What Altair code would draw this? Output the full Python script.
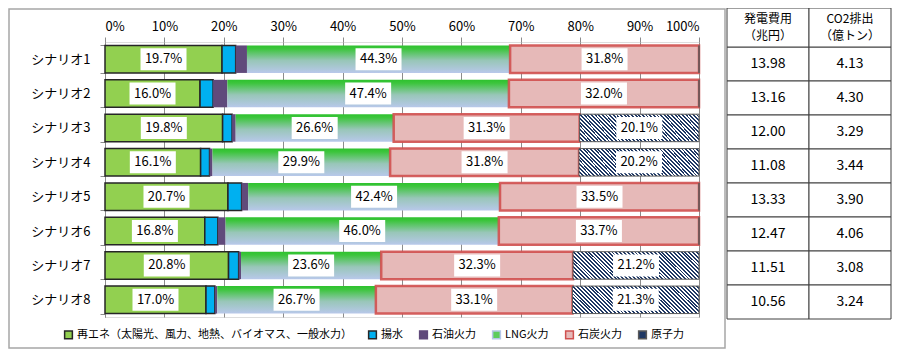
import altair as alt
import pandas as pd

# ---------------- data ----------------
scenarios = ["シナリオ1", "シナリオ2", "シナリオ3", "シナリオ4",
             "シナリオ5", "シナリオ6", "シナリオ7", "シナリオ8"]
types = ["再エネ（太陽光、風力、地熱、バイオマス、一般水力）", "揚水", "石油火力",
         "LNG火力", "石炭火力", "原子力"]
renew = [19.7, 16.0, 19.8, 16.1, 20.7, 16.8, 20.8, 17.0]
pumped = [2.3, 2.2, 1.6, 1.5, 2.3, 2.2, 1.7, 1.5]
oil = [1.9, 2.4, 0.6, 0.5, 1.1, 1.3, 0.4, 0.4]
lng = [44.3, 47.4, 26.6, 29.9, 42.4, 46.0, 23.6, 26.7]
coal = [31.8, 32.0, 31.3, 31.8, 33.5, 33.7, 32.3, 33.1]
nuclear = [0.0, 0.0, 20.1, 20.2, 0.0, 0.0, 21.2, 21.3]
table_cols = ["発電費用", "CO2排出"]
table_units = ["（兆円）", "（億トン）"]
cost = [13.98, 13.16, 12.00, 11.08, 13.33, 12.47, 11.51, 10.56]
co2 = [4.13, 4.30, 3.29, 3.44, 3.90, 4.06, 3.08, 3.24]
x_ticks = [0, 10, 20, 30, 40, 50, 60, 70, 80, 90, 100]

series = [renew, pumped, oil, lng, coal, nuclear]
rows = []
for ti, (t, vals) in enumerate(zip(types, series)):
    for s, v in zip(scenarios, vals):
        rows.append({"scenario": s, "type": t, "order": ti, "value": v})
df = pd.DataFrame(rows)

trows = []
for s, c, e in zip(scenarios, cost, co2):
    trows.append({"scenario": s, "col": table_cols[0], "value": c})
    trows.append({"scenario": s, "col": table_cols[1], "value": e})
tdf = pd.DataFrame(trows)
hdf = pd.DataFrame({"col": table_cols, "unit": table_units})

# ---------------- styles ----------------
FONT = "Noto Sans CJK JP"
W_PLOT, H_PLOT = 594, 275

fills = ["#92d050", "#00b0f0", "#604a7b", "#5ccc5c", "#e6b9b8", "#1f3864"]
strokes = ["#262626", "#262626", "#604a7b", "#b4c6e7", "#d0504f", "#595959"]

lng_grad = {
    "gradient": "linear", "x1": 0, "y1": 0, "x2": 0, "y2": 1,
    "stops": [
        {"offset": 0.0, "color": "#2ec22e"},
        {"offset": 0.12, "color": "#3cc53c"},
        {"offset": 0.55, "color": "#98c6b8"},
        {"offset": 1.0, "color": "#b8c8ea"},
    ],
}

# diagonal hatch built from a hard-stop gradient (\\\ stripes)
bw, bh = 123.0, 27.0
a = (1 + bh / bw) / (1 + (bh / bw) ** 2)
ncyc = 40
hstops = []
for k in range(ncyc):
    o0, o1, o2 = k / ncyc, (k + 0.5) / ncyc, (k + 1) / ncyc
    hstops += [{"offset": o0, "color": "#1f3864"}, {"offset": o1, "color": "#1f3864"},
               {"offset": o1, "color": "#ffffff"}, {"offset": o2, "color": "#ffffff"}]
hatch = {"gradient": "linear", "x1": 0, "y1": 1, "x2": a, "y2": 1 - a * bh / bw,
         "stops": hstops}

xscale = alt.Scale(domain=[0, 100], nice=False)
yscale = alt.Scale(domain=scenarios, paddingInner=0.2, paddingOuter=0.1)

base = alt.Chart(df).transform_stack(
    stack="value", as_=["x0", "x1"], groupby=["scenario"],
    sort=[alt.SortField("order", order="ascending")]
).transform_calculate(
    mid="(datum.x0 + datum.x1) / 2",
    label="format(datum.value, '.1f') + '%'"
)

x_enc = alt.X("x0:Q", scale=xscale, axis=alt.Axis(
    orient="top", values=x_ticks, labelExpr="datum.value + '%'", title=None,
    grid=True, gridColor="#8c8c8c", gridWidth=1, domain=False,
    ticks=True, tickSize=5, tickColor="#8c8c8c", labelFontSize=13,
    labelColor="#000000", labelPadding=4, labelFont=FONT))
y_enc = alt.Y("scenario:N", sort=scenarios, scale=yscale, axis=alt.Axis(
    title=None, labelFontSize=13, labelColor="#000000", labelFont=FONT,
    labelPadding=10, tickBand="extent", tickSize=5, tickColor="#8c8c8c",
    domainColor="#8c8c8c", grid=False))


def seg(i, **mark):
    return base.transform_filter(alt.datum.order == i).mark_bar(**mark).encode(
        x=alt.X("x0:Q", scale=xscale), x2="x1:Q",
        y=alt.Y("scenario:N", sort=scenarios, scale=yscale))


axes_layer = base.mark_bar(opacity=0).encode(x=x_enc, x2="x1:Q", y=y_enc)

renew_l = seg(0, fill=fills[0], stroke=strokes[0], strokeWidth=1.5)
pump_l = seg(1, fill=fills[1], stroke=strokes[1], strokeWidth=1.5)
oil_l = seg(2, fill=fills[2], strokeWidth=0)
lng_l = seg(3, fill=lng_grad, strokeWidth=0)
coal_l = seg(4, fill=fills[4], stroke=strokes[4], strokeWidth=2.5, strokeOpacity=0.9)
nuc_l = seg(5, fill=hatch, stroke=strokes[5], strokeWidth=1)

leg_props = dict(title=None, orient="none", legendX=-42, legendY=287,
                 direction="horizontal", columns=6,
                 symbolType="square", symbolSize=60,
                 symbolOpacity=1, symbolStrokeWidth=1.5,
                 labelFontSize=11, labelFont=FONT, labelColor="#000000",
                 labelOffset=3, columnPadding=13, labelLimit=400)
legend_l = base.mark_square(opacity=0).encode(
    x=alt.X("x0:Q", scale=xscale),
    y=alt.Y("scenario:N", sort=scenarios, scale=yscale),
    fill=alt.Fill("type:N", scale=alt.Scale(domain=types, range=fills),
                  legend=alt.Legend(**leg_props)),
    stroke=alt.Stroke("type:N", scale=alt.Scale(domain=types, range=strokes),
                      legend=alt.Legend(**leg_props)),
)

lab_filter = "datum.value > 0 && (datum.order == 0 || datum.order >= 3)"
box_path = "M-1,-0.478L1,-0.478L1,0.478L-1,0.478Z"
label_box = base.transform_filter(lab_filter).mark_point(
    shape=box_path, size=2116, filled=True, fill="#ffffff", opacity=1, strokeWidth=0
).encode(x=alt.X("mid:Q", scale=xscale),
         y=alt.Y("scenario:N", sort=scenarios, scale=yscale))
label_txt = base.transform_filter(lab_filter).mark_text(
    fontSize=13, font=FONT, color="#000000", baseline="middle", align="center"
).encode(x=alt.X("mid:Q", scale=xscale),
         y=alt.Y("scenario:N", sort=scenarios, scale=yscale), text="label:N")

bars = alt.layer(axes_layer, renew_l, pump_l, oil_l, lng_l, coal_l, nuc_l,
                 legend_l, label_box, label_txt)

# frame around the graph area
frame = alt.Chart(pd.DataFrame({"k": [0]})).mark_rect(
    fillOpacity=0, stroke="#a6a6a6", strokeWidth=1.5
).encode(x=alt.value(-96), x2=alt.value(620), y=alt.value(-33), y2=alt.value(306))

# table
tx = alt.Scale(domain=table_cols, range=[622, 786], paddingInner=0, paddingOuter=0)
ty = alt.Scale(domain=scenarios, range=[5, 277], paddingInner=0, paddingOuter=0)
cells = alt.Chart(tdf).mark_rect(fill="#ffffff", stroke="#404040", strokeWidth=1).encode(
    x=alt.X("col:N", scale=tx, axis=None),
    y=alt.Y("scenario:N", sort=scenarios, scale=ty, axis=None))
cell_txt = alt.Chart(tdf).mark_text(fontSize=14, font=FONT, color="#000000").encode(
    x=alt.X("col:N", scale=tx, axis=None),
    y=alt.Y("scenario:N", sort=scenarios, scale=ty, axis=None),
    text=alt.Text("value:Q", format=".2f"))
head = alt.Chart(hdf).mark_rect(fill="#ffffff", stroke="#404040", strokeWidth=1).encode(
    x=alt.X("col:N", scale=tx, axis=None), y=alt.value(-34), y2=alt.value(5))
head_txt1 = alt.Chart(hdf).mark_text(fontSize=12, font=FONT, color="#000000",
                                     baseline="middle").encode(
    x=alt.X("col:N", scale=tx, axis=None), y=alt.value(-23), text="col:N")
head_txt2 = alt.Chart(hdf).mark_text(fontSize=12, font=FONT, color="#000000",
                                     baseline="middle").encode(
    x=alt.X("col:N", scale=tx, axis=None), y=alt.value(-6), text="unit:N")
table = alt.layer(cells, cell_txt, head, head_txt1, head_txt2)

chart = alt.layer(frame, bars, table).resolve_scale(
    x="independent", y="independent"
).properties(
    width=W_PLOT, height=H_PLOT,
    autosize=alt.AutoSizeParams(type="none"),
    padding={"left": 97, "top": 34, "right": 193, "bottom": 35},
).configure_view(stroke=None).configure(font=FONT)

chart.save("out.html", embed_options={"renderer": "svg", "actions": False})
